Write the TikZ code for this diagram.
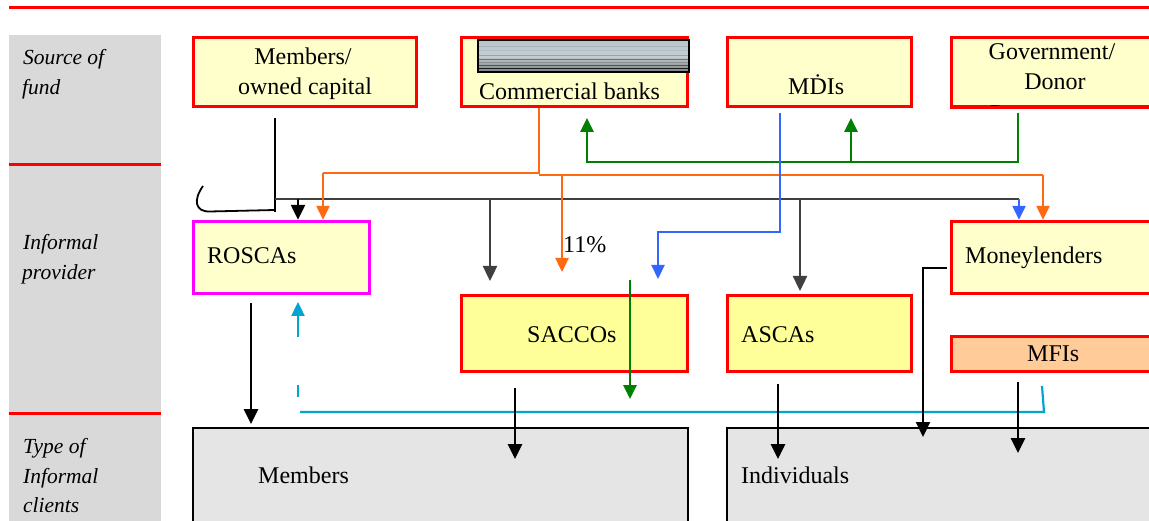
\documentclass[tikz,border=0pt]{standalone}
\usepackage{fontspec}
\setmainfont{Liberation Serif}
\newfontface\labfont{Liberation Serif Italic}
\usetikzlibrary{arrows.meta}
\definecolor{lyel}{HTML}{FFFFCC}
\definecolor{byel}{HTML}{FFFF99}
\definecolor{peach}{HTML}{FFCC99}
\definecolor{colgray}{HTML}{D9D9D9}
\definecolor{boxgray}{HTML}{E5E5E5}
\definecolor{myred}{HTML}{FF0000}
\definecolor{mymag}{HTML}{FF00FF}
\definecolor{myorange}{HTML}{FF6A10}
\definecolor{mygreen}{HTML}{008000}
\definecolor{myblue}{HTML}{3366FF}
\definecolor{mycyan}{HTML}{00A6D0}
\definecolor{darkg}{HTML}{404040}
\definecolor{bartop}{HTML}{B8C4CC}
\definecolor{barmid}{HTML}{C4CED4}
\definecolor{barbot}{HTML}{7A7E80}
\definecolor{s1}{HTML}{A8B4BA}
\definecolor{s2}{HTML}{B4BEC4}
\definecolor{s3}{HTML}{9AA4A8}
\definecolor{s4}{HTML}{6C7274}
\definecolor{s5}{HTML}{8A9092}
\definecolor{s6}{HTML}{505456}
\definecolor{s7}{HTML}{202020}
\begin{document}
\begin{tikzpicture}[x=1pt,y=-1pt,
  every node/.style={inner sep=0pt, font=\fontsize{24}{30}\selectfont},
  lab/.style={anchor=base west, font=\labfont\fontsize{21.5}{30}\selectfont},
  txt/.style={anchor=base west},
  ctxt/.style={anchor=base},
  rbox/.style={draw=myred, line width=3.3pt, fill=lyel, rectangle},
  mbox/.style={draw=mymag, line width=3.3pt, fill=lyel, rectangle},
  gbox/.style={draw=black, line width=2.2pt, fill=boxgray, rectangle},
  arr/.style={-{Triangle[width=14pt,length=15pt]}},
  sarr/.style={-{Triangle[width=13pt,length=14pt]}},
]
\useasboundingbox (0,0) rectangle (1149,521);

% left column
\fill[colgray] (9,35) rectangle (161,521);
\draw[myred, line width=3pt] (9,8) -- (1149,8);
\draw[myred, line width=3pt] (9,165) -- (161,165);
\draw[myred, line width=3pt] (9,413) -- (161,413);
\node[lab] (l1a) at (23,65) {Source of};
\node[lab] (l1b) at (22,95) {fund};
\node[lab] (l2a) at (23,250) {Informal};
\node[lab] (l2b) at (22,280) {provider};
\node[lab] (l3a) at (23,453) {Type of};
\node[lab] (l3b) at (23,483) {Informal};
\node[lab] (l3c) at (23,512) {clients};

% top row boxes
\node[rbox, minimum width=223pt, minimum height=69pt] (mem) at (305,72) {};
\node[ctxt] (memt1) at (303,65) {Members/};
\node[ctxt] (memt2) at (305,95) {owned capital};

\node[rbox, minimum width=226pt, minimum height=69pt] (cb) at (574.5,72) {};
\shade[top color=bartop, bottom color=barbot, middle color=barmid] (478,40) rectangle (689,72);
\foreach \yy/\cc in {46/s1,50/s2,55/s3,59/s4,62/s5,65/s6,68/s7}
  \draw[\cc, line width=0.9pt] (478,\yy) -- (689,\yy);
\draw[black, line width=1.2pt] (478,40) rectangle (689,72);
\node[txt] (cbt) at (479,100) {Commercial banks};

\node[rbox, minimum width=184pt, minimum height=69pt] (mdi) at (819.5,72) {};
\node[txt] (mdit) at (788,95) {M\.DIs};

\node[rbox, minimum width=212pt, minimum height=69pt] (gov) at (1057.5,72) {};
\node[ctxt] (govt1) at (1052,60) {Government/};
\node[ctxt] (govt2) at (1055,90) {Donor};
\begin{scope}
  \clip (950,95) rectangle (1150,106.5);
  \node[txt] (govt3) at (990,122) {P};
\end{scope}
\draw[myred, line width=3.3pt] (950,107.5) -- (1160,107.5);

% informal providers
\node[mbox, minimum width=176pt, minimum height=72pt] (ros) at (281.5,257.5) {};
\node[txt] (rost) at (207,264) {ROSCAs};
\node[rbox, minimum width=212pt, minimum height=72pt] (ml) at (1057.5,257.5) {};
\node[txt] (mlt) at (965,264) {Moneylenders};
\node[rbox, fill=byel, minimum width=226pt, minimum height=76pt] (sac) at (574.5,333.5) {};
\node[txt] (sact) at (527,343) {SACCOs};
\node[rbox, fill=byel, minimum width=184pt, minimum height=76pt] (asc) at (819.5,333.5) {};
\node[txt] (asct) at (741,343) {ASCAs};
\node[rbox, fill=peach, minimum width=212pt, minimum height=35pt] (mfi) at (1057.5,354) {};
\node[txt] (mfit) at (1027,362) {MFIs};

% clients
\node[gbox, minimum width=495pt, minimum height=111pt] (memb) at (440.5,483.5) {};
\node[txt] (membt) at (258,483) {Members};
\node[gbox, minimum width=437pt, minimum height=111pt] (ind) at (945.5,483.5) {};
\node[txt] (indt) at (741,483) {Individuals};

\node[txt] (pct) at (563,253) {11\%};

% black connectors from members' capital
\coordinate (m1) at (275,118);
\coordinate (m2) at (275,212);
\draw[black, line width=1.8pt] (m1) -- (m2);
\draw[black, line width=1.8pt] (275,210) -- (210,211.5) .. controls (195,212) and (193,200) .. (203,186);
\draw[darkg, line width=2.2pt] (275,199) -- (1019,199);
\draw[black, line width=2.2pt, arr] (298,199) -- (298,0 |- ros.north);
\draw[darkg, line width=2.4pt, arr] (490,199) -- (490,281);
\draw[darkg, line width=2.4pt, arr] (800,199) -- (800,291);
\draw[myblue, line width=2.2pt, sarr] (1019,199) -- (1019,0 |- ml.north);

% orange from commercial banks
\draw[myorange, line width=2.2pt] (539,0 |- cb.south) -- (539,173) -- (323,173);
\draw[myorange, line width=2.2pt, sarr] (323,173) -- (323,0 |- ros.north);
\draw[myorange, line width=2.2pt] (539,175) -- (1043,175);
\draw[myorange, line width=2.2pt, sarr] (1043,175) -- (1043,0 |- ml.north);
\draw[myorange, line width=2.4pt, sarr] (562,175) -- (562,272);

% green from government
\draw[mygreen, line width=2.2pt] (1018,113) -- (1018,162) -- (587,162);
\draw[mygreen, line width=2.7pt, sarr] (587,163) -- (587,118);
\draw[mygreen, line width=2.7pt, sarr] (851,163) -- (851,118);
\draw[mygreen, line width=2.7pt, sarr] (630,280) -- (630,399);

% blue from MDIs
\draw[myblue, line width=2.2pt, sarr] (780,113) -- (780,232) -- (658,232) -- (658,279);

% cyan
\draw[mycyan, line width=2.2pt] (1042,386) -- (1044,412) -- (300,412);
\draw[mycyan, line width=2.4pt, sarr, dash pattern=on 12pt off 48pt on 200pt] (298,397) -- (298,302);

% black to clients
\draw[black, line width=2.7pt, arr] (251,303) -- (251,424);
\draw[black, line width=2.7pt, arr] (515,388) -- (515,459);
\draw[black, line width=2.7pt, arr] (778,384) -- (778,459);
\draw[black, line width=2.2pt, arr] (947,268) -- (923,268) -- (923,437);
\draw[black, line width=2.7pt, arr] (1018,382) -- (1018,453);
\end{tikzpicture}
\end{document}
